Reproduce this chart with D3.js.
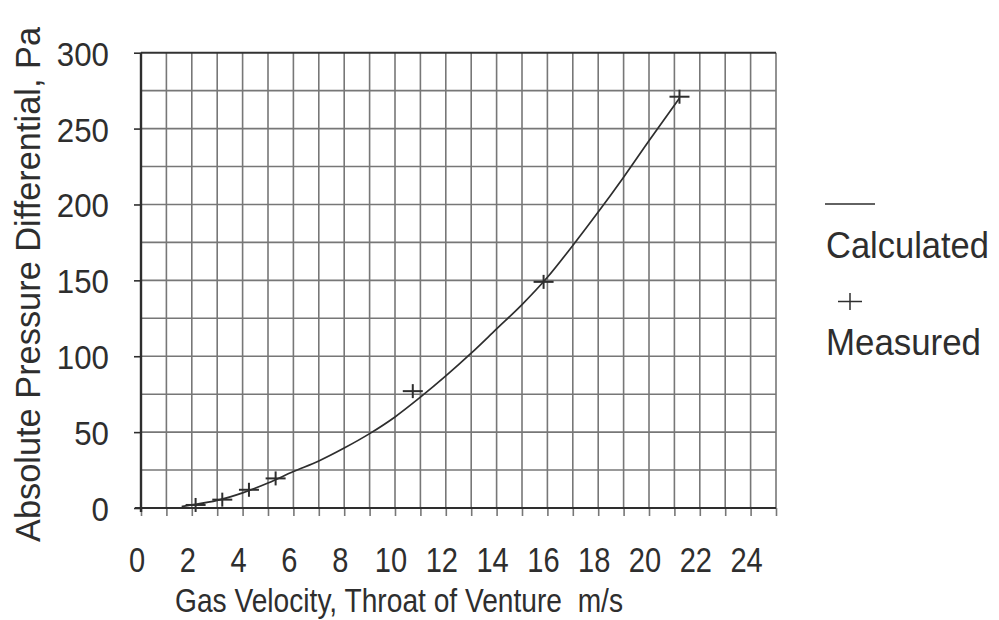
<!DOCTYPE html>
<html lang="en">
<head>
  <meta charset="UTF-8">
  <title>Gas Velocity vs Pressure Differential</title>
  <script src="https://d3js.org/d3.v7.min.js"></script>
  <style>
    body { margin: 0; background: #fff; }
    svg { display: block; font-family: "Liberation Sans", Arial, sans-serif; }
  </style>
</head>
<body>
  <svg width="999" height="620"></svg>

  <script>
    // Calculated curve
    const calcVelocity = [1.6, 2, 3, 4, 5, 6, 7, 8, 9, 10, 11, 12, 13, 14, 15, 16, 17, 18, 19, 20, 21.2];
    const calcPressure = [1, 2, 5, 10, 16.5, 24, 31, 39.5, 49, 60, 73, 87, 102, 118, 134, 152, 173, 195, 218, 242, 270];

    // Measured points
    const measVelocity = [2.15, 3.2, 4.25, 5.3, 10.7, 15.85, 21.2];
    const measPressure = [2, 5.5, 12, 19.5, 77, 149, 271];

    // Tick labels
    const xTickLabels = [0, 2, 4, 6, 8, 10, 12, 14, 16, 18, 20, 22, 24];
    const yTickLabels = [0, 50, 100, 150, 200, 250, 300];

    const margin = { top: 52.7, right: 223, bottom: 112, left: 141 };
    const width = 999 - margin.left - margin.right;
    const height = 620 - margin.top - margin.bottom;
    const ink = "#2e2e2e";
    const gridColor = "#777";

    const root = d3.select("svg");
    const svg = root.append("g")
      .attr("transform", "translate(" + margin.left + "," + margin.top + ")");

    const x = d3.scaleLinear().domain([0, 25]).range([0, width]);
    const y = d3.scaleLinear().domain([0, 300]).range([height, 0]);

    // vertical grid every 1 m/s (the last one is the right border)
    svg.append("g")
      .selectAll("line")
      .data(d3.range(1, 26))
      .enter().append("line")
      .attr("x1", d => x(d)).attr("x2", d => x(d))
      .attr("y1", 0).attr("y2", height)
      .attr("stroke", gridColor)
      .attr("stroke-width", 1.6);

    // horizontal grid every 25 Pa
    svg.append("g")
      .selectAll("line")
      .data(d3.range(25, 300, 25))
      .enter().append("line")
      .attr("x1", 0).attr("x2", width)
      .attr("y1", d => y(d)).attr("y2", d => y(d))
      .attr("stroke", gridColor)
      .attr("stroke-width", 1.6);

    // top border
    svg.append("line")
      .attr("x1", 0).attr("x2", width)
      .attr("y1", y(300)).attr("y2", y(300))
      .attr("stroke", "#333").attr("stroke-width", 2);

    // x axis: small ticks at every unit, labels every 2
    const xAxis = svg.append("g")
      .attr("transform", "translate(0," + height + ")")
      .call(d3.axisBottom(x).ticks(25).tickSize(8).tickFormat(""));
    xAxis.select(".domain").remove();
    xAxis.selectAll("line").attr("stroke", gridColor).attr("stroke-width", 1.6);

    svg.append("line")
      .attr("x1", -6).attr("x2", width)
      .attr("y1", height).attr("y2", height)
      .attr("stroke", ink).attr("stroke-width", 2.2);

    // y axis: ticks every 50
    const yAxis = svg.append("g")
      .call(d3.axisLeft(y).tickValues(yTickLabels).tickSize(7).tickFormat(""));
    yAxis.select(".domain").remove();
    yAxis.selectAll("line").attr("stroke", ink).attr("stroke-width", 1.6);

    svg.append("line")
      .attr("x1", 0).attr("x2", 0)
      .attr("y1", 0).attr("y2", height + 4)
      .attr("stroke", ink).attr("stroke-width", 2.4);

    // tick labels (the scan is squeezed horizontally, so scale glyphs a bit)
    svg.append("g")
      .selectAll("text")
      .data(xTickLabels)
      .enter().append("text")
      .attr("transform", d => "translate(" + (x(d) - 4) + "," + (height + 64) + ") scale(0.83,1)")
      .attr("text-anchor", "middle")
      .style("font-size", "35px")
      .style("fill", ink)
      .text(d => d);

    svg.append("g")
      .selectAll("text")
      .data(yTickLabels)
      .enter().append("text")
      .attr("transform", d => "translate(-32," + (y(d) + 13) + ") scale(0.92,1)")
      .attr("text-anchor", "end")
      .style("font-size", "34px")
      .style("fill", ink)
      .text(d => d);

    // axis titles
    root.append("text")
      .attr("x", 175)
      .attr("y", 612)
      .attr("textLength", 448)
      .attr("lengthAdjust", "spacingAndGlyphs")
      .style("white-space", "pre")
      .style("font-size", "33px")
      .style("fill", ink)
      .text("Gas Velocity, Throat of Venture  m/s");

    root.append("text")
      .attr("transform", "translate(40,284.5) rotate(-90)")
      .attr("text-anchor", "middle")
      .attr("textLength", 515)
      .attr("lengthAdjust", "spacingAndGlyphs")
      .style("font-size", "35px")
      .style("fill", ink)
      .text("Absolute Pressure Differential, Pa");

    // calculated curve
    const calcData = calcVelocity.map((v, i) => ({ v: v, p: calcPressure[i] }));
    const line = d3.line()
      .x(d => x(d.v))
      .y(d => y(d.p))
      .curve(d3.curveMonotoneX);

    svg.append("path")
      .datum(calcData)
      .attr("fill", "none")
      .attr("stroke", ink)
      .attr("stroke-width", 1.7)
      .attr("d", line);

    // measured points as plus signs
    const measData = measVelocity.map((v, i) => ({ v: v, p: measPressure[i] }));
    const marks = svg.selectAll(".meas")
      .data(measData)
      .enter().append("g")
      .attr("class", "meas")
      .attr("transform", d => "translate(" + x(d.v) + "," + y(d.p) + ")");
    marks.append("line")
      .attr("x1", -10).attr("x2", 10).attr("y1", 0).attr("y2", 0)
      .attr("stroke", ink).attr("stroke-width", 2);
    marks.append("line")
      .attr("x1", 0).attr("x2", 0).attr("y1", -7).attr("y2", 7)
      .attr("stroke", ink).attr("stroke-width", 2);

    // legend
    const legend = root.append("g");
    legend.append("line")
      .attr("x1", 825).attr("x2", 875).attr("y1", 204).attr("y2", 204)
      .attr("stroke", ink).attr("stroke-width", 1.6);
    legend.append("text")
      .attr("x", 826).attr("y", 258)
      .attr("textLength", 163)
      .attr("lengthAdjust", "spacingAndGlyphs")
      .style("font-size", "36px")
      .style("fill", ink)
      .text("Calculated");
    legend.append("line")
      .attr("x1", 838).attr("x2", 862).attr("y1", 301.5).attr("y2", 301.5)
      .attr("stroke", ink).attr("stroke-width", 1.5);
    legend.append("line")
      .attr("x1", 850).attr("x2", 850).attr("y1", 293).attr("y2", 310)
      .attr("stroke", ink).attr("stroke-width", 1.5);
    legend.append("text")
      .attr("x", 826).attr("y", 355)
      .attr("textLength", 155)
      .attr("lengthAdjust", "spacingAndGlyphs")
      .style("font-size", "36px")
      .style("fill", ink)
      .text("Measured");
  </script>
</body>
</html>
